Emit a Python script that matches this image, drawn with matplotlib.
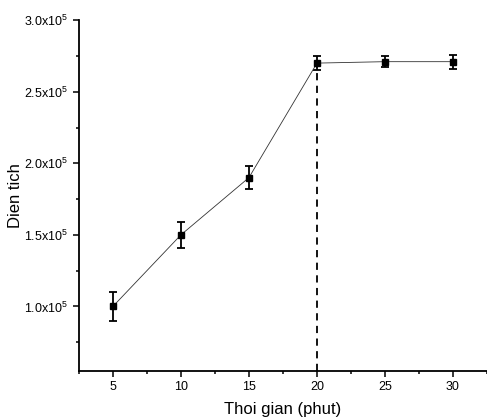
import matplotlib
matplotlib.use('Agg')
import matplotlib.pyplot as plt
from matplotlib.ticker import FuncFormatter, MultipleLocator

plt.rcParams['font.family'] = ['Liberation Sans', 'DejaVu Sans']
plt.rcParams['mathtext.fontset'] = 'custom'
plt.rcParams['mathtext.rm'] = 'Liberation Sans'
plt.rcParams['mathtext.it'] = 'Liberation Sans'

time_min = [5, 10, 15, 20, 25, 30]
area = [1.0e5, 1.5e5, 1.9e5, 2.7e5, 2.71e5, 2.71e5]
area_err = [0.1e5, 0.09e5, 0.08e5, 0.05e5, 0.04e5, 0.05e5]
cutoff_time = 20
cutoff_area = 2.7e5

fig = plt.figure(figsize=(4.87, 4.2), dpi=100)
ax = fig.add_axes([0.162, 0.117, 0.838, 0.835])

ax.errorbar(time_min, area, yerr=area_err, color='#333333', lw=0.6,
            marker='s', ms=5, mfc='black', mec='black', ecolor='black',
            elinewidth=1.3, capsize=3, capthick=1.3)
ax.vlines(cutoff_time, 0.55e5, cutoff_area, colors='black', linestyles=(0, (4, 3)), lw=1.3)

ax.set_xlim(2.5, 32.5)
ax.set_ylim(0.55e5, 3.0e5)
ax.xaxis.set_major_locator(MultipleLocator(5))
ax.xaxis.set_minor_locator(MultipleLocator(2.5))
ax.yaxis.set_minor_locator(MultipleLocator(0.25e5))
ax.set_yticks([1.0e5, 1.5e5, 2.0e5, 2.5e5, 3.0e5])


def fmt(v, pos):
    return r'$%.1f\mathrm{x}10^{5}$' % (v / 1e5)


ax.yaxis.set_major_formatter(FuncFormatter(fmt))
for s in ['top', 'right']:
    ax.spines[s].set_visible(False)
for s in ['left', 'bottom']:
    ax.spines[s].set_linewidth(1.3)
ax.tick_params(which='both', direction='out', width=1.1, labelsize=9, colors='black')
ax.tick_params(which='major', length=4)
ax.tick_params(which='minor', length=2.5)
ax.set_xlabel('Thoi gian (phut)', fontsize=12, labelpad=6)
ax.set_ylabel('Dien tich', fontsize=12, labelpad=1)

fig.savefig('out.png', dpi=100)
